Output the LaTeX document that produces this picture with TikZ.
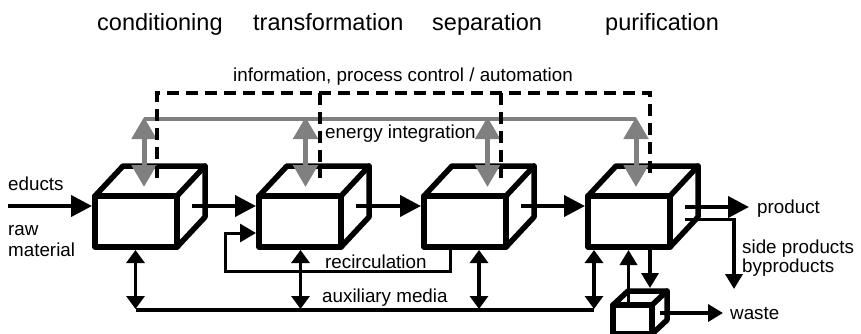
\documentclass[tikz,border=0pt]{standalone}
\usepackage{fontspec}
\setmainfont{Liberation Sans}
\usetikzlibrary{arrows.meta,calc}
\definecolor{eg}{RGB}{128,128,128}
\begin{document}
\begin{tikzpicture}[x=1pt,y=-1pt,
  cubeline/.style={line width=5.5pt,line join=round,line cap=round},
  flow/.style={line width=4pt,-{Triangle[length=21pt,width=21pt]}},
  flowsmall/.style={line width=3.5pt,-{Triangle[length=15pt,width=17pt]}},
  aux/.style={line width=3.5pt,{Triangle[length=13pt,width=18pt]}-{Triangle[length=13pt,width=18pt]}},
  auxline/.style={line width=3.5pt},
  recirc/.style={line width=3pt,-{Triangle[length=16pt,width=18pt]}},
  energy/.style={line width=5pt,draw=eg,{Triangle[length=22pt,width=24pt]}-{Triangle[length=22pt,width=24pt]}},
  energyline/.style={line width=3.5pt,draw=eg},
  info/.style={line width=3.5pt,dash pattern=on 12pt off 7pt},
  lbl/.style={inner sep=0pt,anchor=base west,font=\fontsize{18.8}{22}\selectfont},
  stage/.style={inner sep=0pt,anchor=base west,font=\fontsize{23.5}{28}\selectfont},
  cube/.pic={
    \draw[cubeline] (0,0) rectangle (82,51);
    \draw[cubeline] (0,0) -- (28,-30) -- (110,-30) -- (110,21) -- (82,51);
    \draw[cubeline] (82,0) -- (110,-30);
  },
  smallcube/.pic={
    \draw[cubeline] (0,0) rectangle (39,29);
    \draw[cubeline] (0,0) -- (15,-14) -- (54,-14) -- (54,15) -- (39,29);
    \draw[cubeline] (39,0) -- (54,-14);
  }
]
\useasboundingbox (0,0) rectangle (861,333);

% stage labels
\node[stage] (cond) at (97,30) {conditioning};
\node[stage] (trans) at (253,30) {transformation};
\node[stage] (sep) at (432,30) {separation};
\node[stage] (pur) at (605,30) {purification};

% cubes
\pic (c1) at (95,196) {cube};
\pic (c2) at (259,196) {cube};
\pic (c3) at (424,196) {cube};
\pic (c4) at (588,196) {cube};
\pic (cw) at (613,305) {smallcube};

% coordinates
\coordinate (e0) at (8,206);
\coordinate (e1) at (92,206);
\coordinate (o1) at (192,206);
\coordinate (i2) at (256,206);
\coordinate (o2) at (356,206);
\coordinate (i3) at (421,206);
\coordinate (o3) at (521,206);
\coordinate (i4) at (585,206);
\coordinate (o4) at (685,207);
\coordinate (prod) at (749,207);
\coordinate (s0) at (685,219.5);
\coordinate (s1) at (734,219.5);
\coordinate (s2) at (734,289);
\coordinate (r0) at (450,247);
\coordinate (r1) at (450,271);
\coordinate (r2) at (225,271);
\coordinate (r3) at (225,233);
\coordinate (r4) at (256,233);
\foreach \n/\x in {1/135.5,2/300.5,3/479,4/594}{
  \coordinate (at\n) at (\x,250);
  \coordinate (ab\n) at (\x,309);
}
\coordinate (al) at (135.5,310);
\coordinate (ar) at (594,310);
\coordinate (wu0) at (628.5,305);
\coordinate (wu1) at (628.5,250);
\coordinate (wd0) at (650,247);
\coordinate (wd1) at (650,288);
\coordinate (w0) at (660,313);
\coordinate (w1) at (723,313);
\foreach \n/\x in {1/144,2/305.5,3/487.5,4/636}{
  \coordinate (gt\n) at (\x,117);
  \coordinate (gb\n) at (\x,187);
}
\coordinate (gl) at (144,119);
\coordinate (gr) at (636,119);
\foreach \n/\x in {1/157,2/320,3/501,4/650}{
  \coordinate (dt\n) at (\x,93);
  \coordinate (db\n) at (\x,178);
}

% flow arrows
\draw[flow] (e0) -- (e1);
\draw[flow] (o1) -- (i2);
\draw[flow] (o2) -- (i3);
\draw[flow] (o3) -- (i4);
\draw[flow] (o4) -- (prod);
\draw[flowsmall,line join=miter] (s0) -- (s1) -- (s2);
\draw[recirc] (r0) -- (r1) -- (r2) -- (r3) -- (r4);

% auxiliary media
\draw[auxline] (al) -- (ar);
\foreach \n in {1,2,3,4}{\draw[aux] (at\n) -- (ab\n);}

% waste box arrows
\draw[flowsmall] (wu0) -- (wu1);
\draw[flowsmall] (wd0) -- (wd1);
\draw[flowsmall] (w0) -- (w1);

% energy integration
\draw[energyline] (gl) -- (gr);
\foreach \n in {1,2,3,4}{\draw[energy] (gt\n) -- (gb\n);}

% information / control
\draw[info] (db1) -- (dt1) -- (dt4) -- (db4);
\draw[info] (dt2) -- (db2);
\draw[info] (dt3) -- (db3);

% labels
\node[lbl] (linfo) at (233,81.5) {information, process control / automation};
\node[lbl] (lenergy) at (325,138) {energy integration};
\node[lbl] (leducts) at (8,190) {educts};
\node[lbl] (lraw) at (8,235) {raw};
\node[lbl] (lmat) at (8,256.5) {material};
\node[lbl] (lrec) at (325,268) {recirculation};
\node[lbl] (laux) at (322,302) {auxiliary media};
\node[lbl] (lprod) at (757,213) {product};
\node[lbl] (lside) at (742,253) {side products};
\node[lbl] (lby) at (742,272) {byproducts};
\node[lbl] (lwaste) at (730,319) {waste};
\end{tikzpicture}
\end{document}
